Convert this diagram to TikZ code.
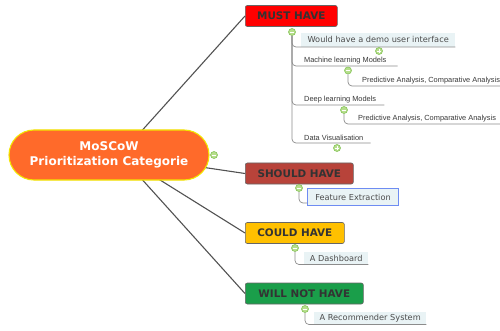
\documentclass[tikz,border=0pt]{standalone}
\usepackage{fontspec}
\setmainfont{DejaVu Sans}
\newfontfamily\smallsans{Liberation Sans}
\definecolor{centralfill}{HTML}{FF6A2A}
\definecolor{centralborder}{HTML}{F2E600}
\definecolor{mustfill}{HTML}{FF0000}
\definecolor{shouldfill}{HTML}{B8433A}
\definecolor{couldfill}{HTML}{FFC000}
\definecolor{willfill}{HTML}{1A9E4A}
\definecolor{lightbox}{HTML}{E9F3F5}
\definecolor{selblue}{HTML}{6E8CF2}
\definecolor{togfill}{HTML}{B6DE8C}
\definecolor{togborder}{HTML}{86C45A}
\newcommand{\togminus}[1]{\draw[white,line width=0.8pt] ([xshift=-2pt]#1.center) -- ([xshift=2pt]#1.center);}
\newcommand{\togplus}[1]{\togminus{#1}\draw[white,line width=0.8pt] ([yshift=-2pt]#1.center) -- ([yshift=2pt]#1.center);}
\begin{document}
\begin{tikzpicture}[x=1pt,y=-1pt,
 mainline/.style={draw=black!68, line width=1.1pt},
 subline/.style={draw=black!45, line width=0.7pt, rounded corners=4pt},
 topic/.style={draw=black!60, line width=0.6pt, rounded corners=2pt, anchor=west, minimum height=21pt, inner xsep=11pt, font=\fontsize{10.4}{12}\selectfont\bfseries, text=black!80},
 leaf/.style={anchor=south west, inner xsep=4pt, inner ysep=2.5pt, font=\fontsize{8.2}{10}\selectfont, text=black!70},
 leafbox/.style={leaf, fill=lightbox, inner ysep=1.5pt},
 tinyleaf/.style={anchor=south west, inner xsep=4pt, inner ysep=2pt, font=\smallsans\fontsize{7.4}{9}\selectfont, text=black!78},
 toggle/.style={circle, draw=togborder, fill=togfill, line width=0.6pt, minimum size=7pt, inner sep=0pt},
]
\useasboundingbox (0,0) rectangle (500,331);

% topics
\node[topic, fill=mustfill, minimum width=92pt] (must) at (245,16) {MUST HAVE};
\node[topic, fill=shouldfill, minimum width=108pt] (should) at (245,173.5) {SHOULD HAVE};
\node[topic, fill=couldfill, minimum width=99pt] (could) at (245,233) {COULD HAVE};
\node[topic, fill=willfill, minimum width=118pt] (wont) at (245,293.5) {WILL NOT HAVE};

% main connectors
\coordinate (hub) at (120,155);
\draw[mainline] (hub) -- (must.west);
\draw[mainline] (hub) -- (should.west);
\draw[mainline] (hub) -- (could.west);
\draw[mainline] (hub) -- (wont.west);

% central
\node[rounded corners=25pt, fill=centralfill, draw=centralborder, line width=1.1pt,
      minimum width=200pt, minimum height=50pt, align=center, text=white,
      font=\fontsize{12}{15}\selectfont\bfseries] (center) at (109,155)
      {MoSCoW\\Prioritization Categorie};
\node[toggle] (tc) at (214,155) {};
\togminus{tc}

% MUST HAVE branch
\node[leafbox, minimum width=154pt, minimum height=14pt] (demo) at (301,47) {Would have a demo user interface};
\node[tinyleaf, minimum width=94pt, align=left] (ml) at (300,66) {Machine learning Models\hspace*{7pt}};
\node[tinyleaf] (pa1) at (358,86) {Predictive Analysis, Comparative Analysis};
\node[tinyleaf] (dl) at (300,105) {Deep learning Models\hspace*{4pt}};
\node[tinyleaf] (pa2) at (354,124) {Predictive Analysis, Comparative Analysis};
\node[tinyleaf] (dv) at (300,143) {Data Visualisation\hspace*{3pt}};

\node[toggle] (tm) at (292,32) {};
\draw[subline] (tm) |- (demo.south west) -- (demo.south east);
\draw[subline] (tm) |- (ml.south west) -- (ml.south east);
\draw[subline] (tm) |- (dl.south west) -- (dl.south east);
\draw[subline] (tm) |- (dv.south west) -- (dv.south east);
\node[toggle] (tml) at (348,70.5) {};
\draw[subline] (tml) |- (pa1.south west) -- (pa1.south east);
\node[toggle] (tdl) at (344,110) {};
\draw[subline] (tdl) |- (pa2.south west) -- (pa2.south east);
\node[toggle] (tdemo) at (379,51) {};
\node[toggle] (tdv) at (337,148) {};
\togminus{tm}
\togminus{tml}
\togminus{tdl}
\togplus{tdemo}
\togplus{tdv}

% SHOULD HAVE branch
\node[leaf, fill=lightbox, draw=selblue, line width=1pt, minimum width=91pt, minimum height=17pt] (fe) at (307,206) {Feature Extraction};
\node[toggle] (ts) at (299,188) {};
\draw[subline] (ts) |- ([yshift=3pt]fe.south west);
\togminus{ts}

% COULD HAVE branch
\node[leafbox, minimum width=64pt, minimum height=12pt] (dash) at (304,264.5) {A Dashboard};
\node[toggle] (tco) at (295,248) {};
\draw[subline] (tco) |- (dash.south west) -- (dash.south east);
\togminus{tco}

% WILL NOT HAVE branch
\node[leafbox, minimum width=112pt, minimum height=12pt] (rec) at (314,324.5) {A Recommender System};
\node[toggle] (tw) at (305,309) {};
\draw[subline] (tw) |- (rec.south west) -- (rec.south east);
\togminus{tw}
\end{tikzpicture}
\end{document}
